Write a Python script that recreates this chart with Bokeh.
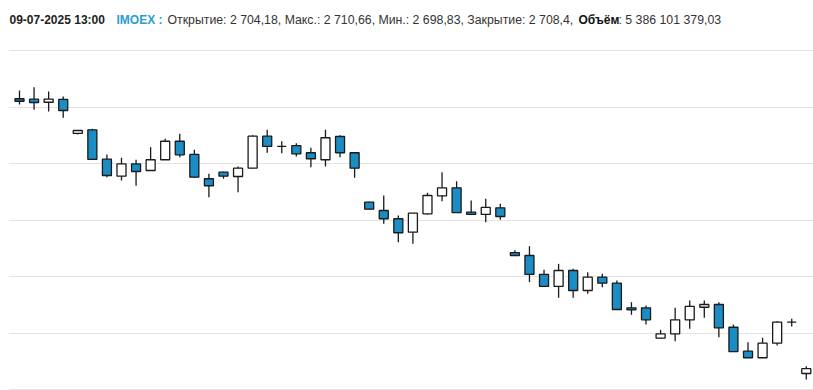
from bokeh.plotting import figure
from bokeh.models import Range1d, FixedTicker, Label, ColumnDataSource
from bokeh.embed import file_html
from bokeh.resources import INLINE

# hourly candles (index 0..54), last one = 09-07-2025 13:00
opens = [2947.3, 2946.9, 2944.2, 2946.7, 2916.6, 2919.8, 2893.8, 2878.8, 2889.6, 2883.8,
         2893.3, 2909.7, 2898.0, 2876.5, 2882.3, 2878.5, 2885.9, 2914.2, 2905.1, 2905.9,
         2899.5, 2893.3, 2913.9, 2899.5, 2855.8, 2848.4, 2841.1, 2829.2, 2845.5, 2861.4,
         2868.5, 2846.9, 2844.9, 2850.8, 2811.2, 2808.6, 2791.8, 2781.2, 2795.3, 2777.6,
         2789.4, 2784.1, 2762.3, 2762.3, 2735.4, 2739.3, 2751.7, 2762.8, 2765.2, 2745.1,
         2723.9, 2718.1, 2731.0, 2749.6, 2704.18]
highs = [2954.6, 2957.5, 2953.7, 2949.3, 2919.5, 2920.7, 2898.0, 2895.1, 2893.3, 2904.4,
         2911.9, 2916.3, 2902.1, 2880.9, 2882.6, 2887.4, 2915.1, 2919.8, 2909.7, 2908.0,
         2903.9, 2919.8, 2915.1, 2900.0, 2856.2, 2861.7, 2844.0, 2846.3, 2864.1, 2882.3,
         2874.3, 2857.3, 2858.8, 2854.3, 2813.3, 2816.8, 2795.9, 2801.2, 2796.8, 2793.8,
         2792.4, 2786.5, 2767.3, 2764.3, 2742.8, 2762.3, 2768.8, 2768.8, 2767.3, 2747.5,
         2731.9, 2735.8, 2750.4, 2752.6, 2710.66]
lows = [2942.2, 2937.5, 2936.0, 2930.5, 2915.7, 2893.3, 2877.9, 2875.0, 2870.3, 2883.5,
        2893.0, 2895.6, 2877.4, 2860.2, 2876.5, 2864.6, 2885.6, 2899.5, 2899.1, 2896.2,
        2886.7, 2887.4, 2895.6, 2877.4, 2849.2, 2836.6, 2820.4, 2818.9, 2844.9, 2856.6,
        2846.3, 2844.6, 2838.1, 2840.2, 2808.4, 2785.0, 2781.0, 2771.2, 2771.2, 2774.7,
        2780.5, 2760.5, 2756.1, 2747.5, 2734.9, 2732.7, 2743.7, 2753.5, 2736.3, 2723.3,
        2717.8, 2717.8, 2728.9, 2745.8, 2698.83]
closes = [2945.1, 2944.0, 2947.0, 2936.9, 2919.2, 2893.6, 2879.4, 2889.7, 2882.9, 2893.3,
          2909.7, 2897.7, 2877.9, 2870.3, 2878.8, 2885.9, 2914.2, 2905.1, 2905.1, 2898.6,
          2894.2, 2912.8, 2899.5, 2885.9, 2849.6, 2841.1, 2828.7, 2846.0, 2861.7, 2868.5,
          2846.6, 2844.9, 2851.1, 2843.1, 2808.6, 2791.8, 2781.2, 2795.3, 2777.6, 2789.4,
          2784.1, 2760.8, 2760.5, 2751.7, 2739.3, 2751.7, 2763.5, 2765.2, 2744.6, 2723.6,
          2718.1, 2731.0, 2749.6, 2749.6, 2708.4]
grid_prices = [2690, 2740, 2790, 2840, 2890, 2940, 2990]

header_date = "09-07-2025 13:00"
header_ticker = "IMOEX :"
header_values = "Открытие: 2 704,18, Макс.: 2 710,66, Мин.: 2 698,83, Закрытие: 2 708,4,"
header_vol_label = "Объём"
header_vol_value = ": 5 386 101 379,03"

BLUE = "#1a8dc4"
idx = list(range(len(opens)))
fills = [BLUE if c < o else "white" for o, c in zip(opens, closes)]
tops = [max(o, c) for o, c in zip(opens, closes)]
bottoms = [min(o, c) for o, c in zip(opens, closes)]
src = ColumnDataSource(dict(x=idx, o=opens, h=highs, l=lows, c=closes,
                            top=tops, bottom=bottoms, fill=fills))

W, H = 813, 390
p = figure(width=W, height=H, output_backend="svg", toolbar_location=None,
           x_range=Range1d(-0.755, 54.495), y_range=Range1d(2689.115, 3034.25),
           min_border_left=8, min_border_right=0, min_border_top=0, min_border_bottom=0)
p.outline_line_color = None
p.background_fill_color = "white"
p.border_fill_color = "white"
p.xaxis.visible = False
p.yaxis.visible = False
p.xgrid.visible = False
p.yaxis.ticker = FixedTicker(ticks=grid_prices)
p.ygrid.ticker = FixedTicker(ticks=grid_prices)
p.ygrid.grid_line_color = "#e3e3e3"
p.ygrid.grid_line_width = 1

p.segment(x0="x", y0="l", x1="x", y1="h", source=src, line_color="#1a1a1a", line_width=1.3)
p.vbar(x="x", top="top", bottom="bottom", width=0.62, source=src,
       fill_color="fill", line_color="#1a1a1a", line_width=1.3)

FONT = "Liberation Sans"
ty = H - 19
labels = [
    (1, header_date, "#222222", "bold", "12px"),
    (108, header_ticker, "#2a9dd4", "bold", "12px"),
    (159, header_values, "#333333", "normal", "12.3px"),
    (570, header_vol_label, "#111111", "bold", "12px"),
    (610, header_vol_value, "#333333", "normal", "12.3px"),
]
for x, t, col, style, fs in labels:
    p.add_layout(Label(x=x, y=ty, x_units="screen", y_units="screen", text=t,
                       text_font=FONT, text_font_size=fs, text_color=col,
                       text_font_style=style, text_baseline="middle", text_align="left"))

open("out.html", "w").write(file_html(p, INLINE))
